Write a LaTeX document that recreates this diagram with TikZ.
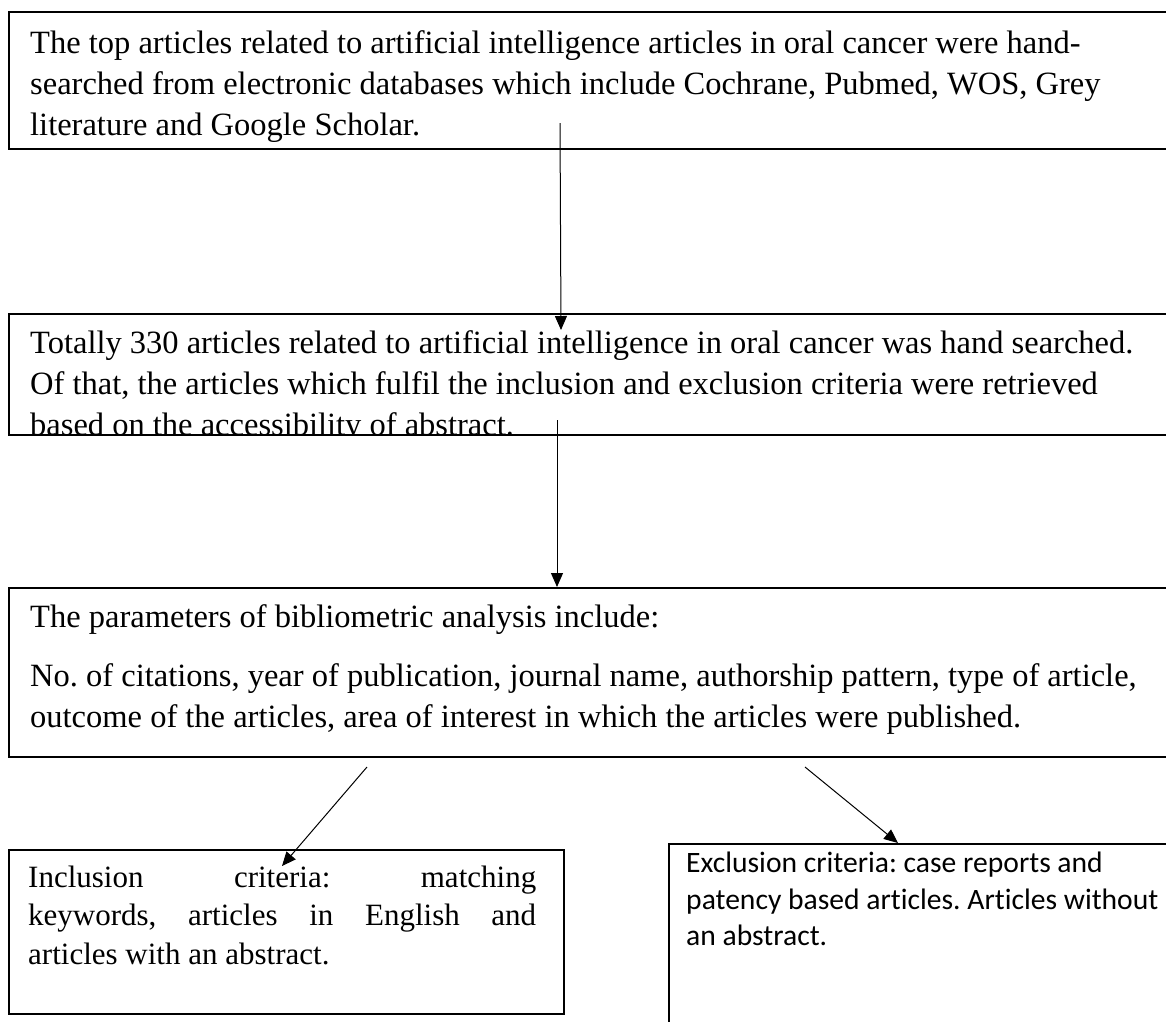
\documentclass[tikz,border=0pt]{standalone}
\usepackage{fontspec}
\setmainfont{Liberation Serif}
\newfontfamily\calibrifont[Ligatures=NoCommon]{Carlito}
\usetikzlibrary{arrows.meta}
\frenchspacing
\begin{document}
\begin{tikzpicture}[x=1pt,y=-1pt,
  box/.style={draw=black, line width=2pt, anchor=north west, inner sep=0pt},
  txt/.style={anchor=north west, inner sep=0pt, align=left, font=\fontsize{32.5}{41}\selectfont},
  conn/.style={line width=1pt, -{Triangle[length=14pt,width=12pt]}}]
\clip (0,0) rectangle (1166,1021);
\fill[white] (0,0) rectangle (1166,1021);
% box 1
\node[box, minimum width=1200pt, minimum height=137pt] (b1) at (8,11) {};
\node[txt] (t1) at (30,30) {The top articles related to artificial intelligence articles in oral cancer were hand-\\
searched from electronic databases which include Cochrane, Pubmed, WOS, Grey\\
literature and Google Scholar.};
% box 2
\begin{scope}
\clip (8,313) rectangle (1166,434);
\node[txt] (t2) at (30,330) {Totally 330 articles related to artificial intelligence in oral cancer was hand searched.\\
Of that, the articles which fulfil the inclusion and exclusion criteria were retrieved\\
based on the accessibility of abstract.};
\end{scope}
\node[box, minimum width=1200pt, minimum height=121pt] (b2) at (8,313) {};
% box 3
\node[box, minimum width=1200pt, minimum height=169pt] (b3) at (8,587) {};
\node[txt] (t3) at (30,604) {The parameters of bibliometric analysis include:\\[18pt]
No. of citations, year of publication, journal name, authorship pattern, type of article,\\
outcome of the articles, area of interest in which the articles were published.};
% inclusion
\node[box, minimum width=555pt, minimum height=164pt] (b4) at (8,849) {};
\node[txt, font=\fontsize{31}{38.5}\selectfont] (t4) at (28,865.5) {\makebox[508pt][s]{Inclusion criteria: matching}\\
\makebox[508pt][s]{keywords, articles in English and}\\
articles with an abstract.};
% exclusion
\node[box, minimum width=600pt, minimum height=300pt] (b5) at (668,843) {};
\node[txt, font=\calibrifont\fontsize{29.6}{36.5}\selectfont] (t5) at (686,852) {Exclusion criteria: case reports and\\
patency based articles. Articles without\\
an abstract.};
% connectors
\coordinate (a1s) at (560,123);
\coordinate (a1e) at (561,330);
\coordinate (a2s) at (557,420);
\coordinate (a2e) at (557,587);
\coordinate (a3s) at (367,767);
\coordinate (a3e) at (282,866);
\coordinate (a4s) at (805,767);
\coordinate (a4e) at (898,843);
\draw[conn] (a1s) -- (a1e);
\draw[conn] (a2s) -- (a2e);
\draw[conn] (a3s) -- (a3e);
\draw[conn] (a4s) -- (a4e);
\end{tikzpicture}
\end{document}
